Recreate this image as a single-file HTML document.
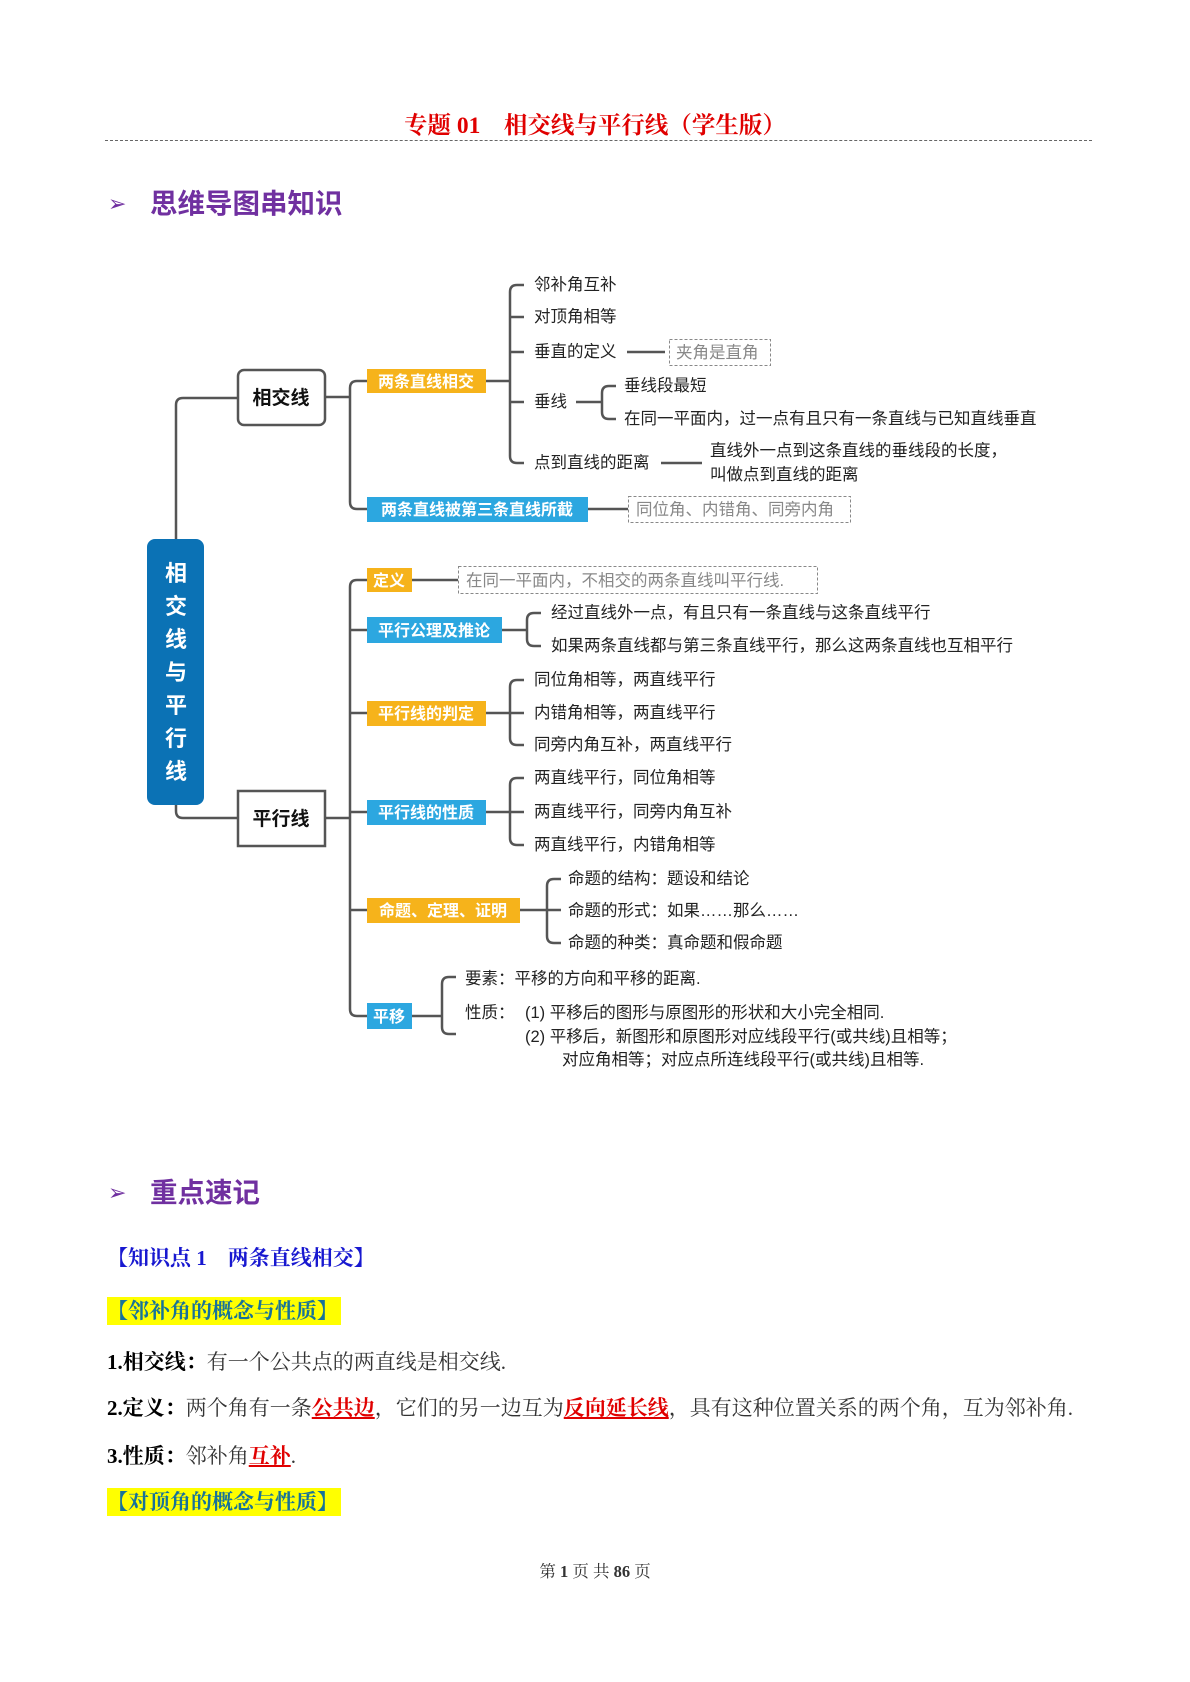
<!DOCTYPE html>
<html><head><meta charset="utf-8">
<style>
body{margin:0;background:#fff;}
#p{position:relative;width:1190px;height:1682px;overflow:hidden;background:#fff;font-family:"Liberation Serif","Noto Serif CJK SC",serif;}
.a{position:absolute;white-space:nowrap;}
.s{font-family:"Liberation Sans","Noto Sans CJK SC",sans-serif;}
.t{font-size:21px;line-height:30px;color:#333;}
.t b{color:#000;}
.r{color:#e00000;font-weight:bold;text-decoration:underline;}
</style></head><body><div id="p">
<div class="a" style="left:0;width:1190px;text-align:center;top:111px;font-size:23.5px;line-height:30px;color:#e00000;font-weight:bold;">专题 01　相交线与平行线（学生版）</div>
<div class="a" style="left:105px;top:140px;width:987px;border-top:1px dashed #666;"></div>

<div class="a s" style="left:108px;top:188px;font-size:22px;line-height:32px;color:#7030a0;">➢</div>
<div class="a s" style="left:150px;top:187px;font-size:27.5px;line-height:34px;color:#7030a0;font-weight:bold;">思维导图串知识</div>

<svg class="a" style="left:0;top:0" width="1190" height="1100" font-family="Liberation Sans, Noto Sans CJK SC, sans-serif">
<g fill="none" stroke="#555" stroke-width="2.5">
<path d="M176 539V405Q176 398 183 398H237"/>
<path d="M176 804V811Q176 818 183 818H237"/>
<path d="M325 397H350M367 381H357Q350 381 350 388V502Q350 509 357 509H367"/>
<path d="M588 509H628M486 381H510"/>
<path d="M524 285H517Q510 285 510 292V456Q510 463 517 463H524M510 317H524M510 352H524M510 402H524"/>
<path d="M627 352H665M576 402H602M616 386H609Q602 386 602 393V412Q602 419 609 419H616M661 463H702"/>
<path d="M325 818H350M367 580H357Q350 580 350 587V1009Q350 1016 357 1016H367M350 630H367M350 713H367M350 812H367M350 910H367"/>
<path d="M412 580H458M502 630H527M541 613H534Q527 613 527 620V639Q527 646 534 646H541"/>
<path d="M486 713H510M524 680H517Q510 680 510 687V738Q510 745 517 745H524M510 713H524"/>
<path d="M486 812H510M524 778H517Q510 778 510 785V838Q510 845 517 845H524M510 812H524"/>
<path d="M520 910H547M561 879H554Q547 879 547 886V936Q547 943 554 943H561M547 910H561"/>
<path d="M412 1016H442M456 977H449Q442 977 442 984V1027Q442 1034 449 1034H456"/>
</g>
<g fill="none" stroke="#888" stroke-width="1" stroke-dasharray="3,2">
<rect x="628.5" y="496.5" width="222" height="26"/>
<rect x="669.5" y="339.5" width="101" height="26"/>
<rect x="458.5" y="566.5" width="359" height="27"/>
</g>
<rect x="147" y="539" width="57" height="266" rx="8" fill="#0b72b5"/>
<g fill="#fff" font-size="22" font-weight="bold" text-anchor="middle">
<text x="176" y="581">相</text><text x="176" y="614">交</text><text x="176" y="647">线</text><text x="176" y="680">与</text><text x="176" y="713">平</text><text x="176" y="746">行</text><text x="176" y="779">线</text>
</g>
<rect x="238" y="370" width="87" height="55" rx="6" fill="#fff" stroke="#555" stroke-width="2.5"/>
<rect x="238" y="791" width="87" height="55" fill="#fff" stroke="#555" stroke-width="2.5"/>
<g font-size="19" font-weight="bold" fill="#111" text-anchor="middle"><text x="281" y="404">相交线</text><text x="281" y="825">平行线</text></g>
<g fill="#f6b31b"><rect x="367" y="369" width="119" height="24"/><rect x="367" y="568" width="45" height="24"/><rect x="367" y="701" width="119" height="25"/><rect x="367" y="898" width="153" height="25"/></g>
<g fill="#2ca7e0"><rect x="367" y="497" width="221" height="25"/><rect x="367" y="617" width="135" height="26"/><rect x="367" y="800" width="119" height="25"/><rect x="367" y="1003" width="45" height="26"/></g>
<g fill="#fff" font-size="16" font-weight="bold" text-anchor="middle">
<text x="426" y="387">两条直线相交</text><text x="477" y="515">两条直线被第三条直线所截</text>
<text x="389" y="586">定义</text><text x="434" y="636">平行公理及推论</text><text x="426" y="719">平行线的判定</text>
<text x="426" y="818">平行线的性质</text><text x="443" y="916">命题、定理、证明</text><text x="389" y="1022">平移</text>
</g>
<g fill="#888" font-size="16.5"><text x="636" y="515">同位角、内错角、同旁内角</text><text x="676" y="358">夹角是直角</text><text x="466" y="586">在同一平面内，不相交的两条直线叫平行线.</text></g>
<g fill="#222" font-size="16.5" dominant-baseline="central">
<text x="534" y="285">邻补角互补</text><text x="534" y="317">对顶角相等</text><text x="534" y="352">垂直的定义</text><text x="534" y="402">垂线</text><text x="534" y="463">点到直线的距离</text>
<text x="624" y="386">垂线段最短</text><text x="624" y="419">在同一平面内，过一点有且只有一条直线与已知直线垂直</text>
<text x="710" y="451">直线外一点到这条直线的垂线段的长度，</text><text x="710" y="475">叫做点到直线的距离</text>
<text x="551" y="613">经过直线外一点，有且只有一条直线与这条直线平行</text><text x="551" y="646">如果两条直线都与第三条直线平行，那么这两条直线也互相平行</text>
<text x="534" y="680">同位角相等，两直线平行</text><text x="534" y="713">内错角相等，两直线平行</text><text x="534" y="745">同旁内角互补，两直线平行</text>
<text x="534" y="778">两直线平行，同位角相等</text><text x="534" y="812">两直线平行，同旁内角互补</text><text x="534" y="845">两直线平行，内错角相等</text>
<text x="568" y="879">命题的结构：题设和结论</text><text x="568" y="911">命题的形式：如果……那么……</text><text x="568" y="943">命题的种类：真命题和假命题</text>
<text x="465" y="979">要素：平移的方向和平移的距离.</text><text x="465" y="1013">性质：</text><text x="525" y="1013">(1) 平移后的图形与原图形的形状和大小完全相同.</text>
<text x="525" y="1037">(2) 平移后，新图形和原图形对应线段平行(或共线)且相等；</text><text x="562" y="1060">对应角相等；对应点所连线段平行(或共线)且相等.</text>
</g>
</svg>

<div class="a s" style="left:108px;top:1177px;font-size:22px;line-height:32px;color:#7030a0;">➢</div>
<div class="a s" style="left:150px;top:1176px;font-size:27.5px;line-height:34px;color:#7030a0;font-weight:bold;">重点速记</div>
<div class="a" style="left:107px;top:1243px;font-size:21px;line-height:30px;color:#1818d0;font-weight:bold;">【知识点 1　两条直线相交】</div>
<div class="a" style="left:107px;top:1297px;width:234px;height:28px;background:#ffff00;"></div>
<div class="a" style="left:107px;top:1296px;font-size:21px;line-height:30px;color:#17729a;font-weight:bold;">【邻补角的概念与性质】</div>
<div class="a t" style="left:107px;top:1347px;"><b>1.相交线：</b>有一个公共点的两直线是相交线.</div>
<div class="a t" style="left:107px;top:1393px;"><b>2.定义：</b>两个角有一条<span class="r">公共边</span>，它们的另一边互为<span class="r">反向延长线</span>，具有这种位置关系的两个角，互为邻补角.</div>
<div class="a t" style="left:107px;top:1441px;"><b>3.性质：</b>邻补角<span class="r">互补</span>.</div>
<div class="a" style="left:107px;top:1488px;width:234px;height:28px;background:#ffff00;"></div>
<div class="a" style="left:107px;top:1487px;font-size:21px;line-height:30px;color:#17729a;font-weight:bold;">【对顶角的概念与性质】</div>
<div class="a" style="left:0;width:1190px;text-align:center;top:1561px;font-size:16.5px;line-height:22px;color:#333;">第 <b>1</b> 页 共 <b>86</b> 页</div>
</div></body></html>
